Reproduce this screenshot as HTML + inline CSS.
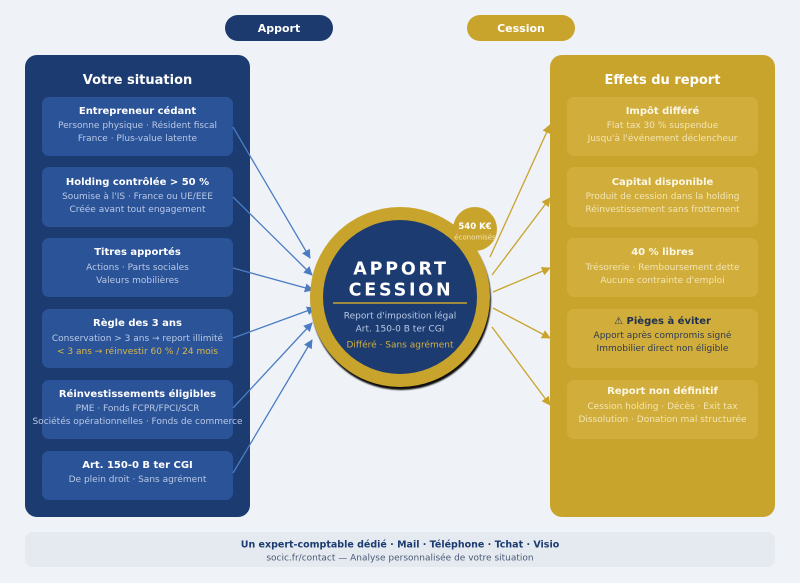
<!DOCTYPE html>
<html><head><meta charset="utf-8"><style>
html,body{margin:0;padding:0;background:#eff2f6;}
svg{display:block;font-family:"DejaVu Sans","Liberation Sans",sans-serif;}
</style></head><body>
<svg width="800" height="583" viewBox="0 0 800 583" xmlns="http://www.w3.org/2000/svg">
<defs>
<marker id="ab" viewBox="0 0 10 10" refX="9" refY="5" markerWidth="9" markerHeight="9" markerUnits="userSpaceOnUse" orient="auto"><path d="M0,0 L10,5 L0,10 z" fill="#4a7cc4"/></marker>
<marker id="ag" viewBox="0 0 10 10" refX="9" refY="5" markerWidth="9" markerHeight="9" markerUnits="userSpaceOnUse" orient="auto"><path d="M0,0 L10,5 L0,10 z" fill="#c9a42c"/></marker>
<filter id="bl"><feGaussianBlur stdDeviation="0.8"/></filter>
</defs>
<rect width="800" height="583" fill="#eff2f6"/>

<!-- pills -->
<rect x="225" y="15" width="108" height="26" rx="13" fill="#1c3a6e"/>
<text x="279" y="32" text-anchor="middle" font-size="11" font-weight="bold" fill="#ffffff">Apport</text>
<rect x="467" y="15" width="108" height="26" rx="13" fill="#c9a42c"/>
<text x="521" y="32" text-anchor="middle" font-size="11" font-weight="bold" fill="#ffffff">Cession</text>

<!-- left panel -->
<rect x="25" y="55" width="225" height="462" rx="12" fill="#1c3b70"/>
<text x="137.5" y="84" text-anchor="middle" font-size="13" font-weight="bold" fill="#ffffff">Votre situation</text>
<g fill="#2b5398">
<rect x="42" y="97" width="191" height="59" rx="7"/>
<rect x="42" y="167" width="191" height="60" rx="7"/>
<rect x="42" y="238" width="191" height="59" rx="7"/>
<rect x="42" y="309" width="191" height="59" rx="7"/>
<rect x="42" y="380" width="191" height="59" rx="7"/>
<rect x="42" y="451" width="191" height="49" rx="7"/>
</g>
<g text-anchor="middle">
<text x="137.5" y="114" font-size="10" font-weight="bold" fill="#ffffff">Entrepreneur cédant</text>
<text x="137.5" y="128" font-size="9" fill="#b9c9e6">Personne physique · Résident fiscal</text>
<text x="137.5" y="141" font-size="9" fill="#b9c9e6">France · Plus-value latente</text>

<text x="137.5" y="185" font-size="10" font-weight="bold" fill="#ffffff">Holding contrôlée &gt; 50 %</text>
<text x="137.5" y="199" font-size="9" fill="#b9c9e6">Soumise à l'IS · France ou UE/EEE</text>
<text x="137.5" y="212" font-size="9" fill="#b9c9e6">Créée avant tout engagement</text>

<text x="137.5" y="255" font-size="10" font-weight="bold" fill="#ffffff">Titres apportés</text>
<text x="137.5" y="270" font-size="9" fill="#b9c9e6">Actions · Parts sociales</text>
<text x="137.5" y="283" font-size="9" fill="#b9c9e6">Valeurs mobilières</text>

<text x="137.5" y="326" font-size="10" font-weight="bold" fill="#ffffff">Règle des 3 ans</text>
<text x="137.5" y="341" font-size="9" fill="#b9c9e6">Conservation &gt; 3 ans → report illimité</text>
<text x="137.5" y="354" font-size="9" fill="#d9b84a">&lt; 3 ans → réinvestir 60 % / 24 mois</text>

<text x="137.5" y="397" font-size="10" font-weight="bold" fill="#ffffff">Réinvestissements éligibles</text>
<text x="137.5" y="411" font-size="9" fill="#b9c9e6">PME · Fonds FCPR/FPCI/SCR</text>
<text x="137.5" y="424" font-size="9" fill="#b9c9e6">Sociétés opérationnelles · Fonds de commerce</text>

<text x="137.5" y="468" font-size="10" font-weight="bold" fill="#ffffff">Art. 150-0 B ter CGI</text>
<text x="137.5" y="482" font-size="9" fill="#b9c9e6">De plein droit · Sans agrément</text>
</g>

<!-- right panel -->
<rect x="550" y="55" width="225" height="462" rx="12" fill="#c9a42c"/>
<text x="662.5" y="84" text-anchor="middle" font-size="13" font-weight="bold" fill="#ffffff">Effets du report</text>
<g fill="#d1ae3b">
<rect x="567" y="97" width="191" height="59" rx="7"/>
<rect x="567" y="167" width="191" height="60" rx="7"/>
<rect x="567" y="238" width="191" height="59" rx="7"/>
<rect x="567" y="309" width="191" height="59" rx="7"/>
<rect x="567" y="380" width="191" height="59" rx="7"/>
</g>
<g text-anchor="middle">
<text x="662.5" y="114" font-size="10" font-weight="bold" fill="#fdf7e6">Impôt différé</text>
<text x="662.5" y="128" font-size="9" fill="#f3e4b4">Flat tax 30 % suspendue</text>
<text x="662.5" y="141" font-size="9" fill="#f3e4b4">Jusqu'à l'événement déclencheur</text>

<text x="662.5" y="185" font-size="10" font-weight="bold" fill="#fdf7e6">Capital disponible</text>
<text x="662.5" y="199" font-size="9" fill="#f3e4b4">Produit de cession dans la holding</text>
<text x="662.5" y="212" font-size="9" fill="#f3e4b4">Réinvestissement sans frottement</text>

<text x="662.5" y="255" font-size="10" font-weight="bold" fill="#fdf7e6">40 % libres</text>
<text x="662.5" y="270" font-size="9" fill="#f3e4b4">Trésorerie · Remboursement dette</text>
<text x="662.5" y="283" font-size="9" fill="#f3e4b4">Aucune contrainte d'emploi</text>

<text x="662.5" y="324" font-size="10" font-weight="bold" fill="#1f2f4f">⚠ Pièges à éviter</text>
<text x="662.5" y="338" font-size="9" fill="#2e3a52">Apport après compromis signé</text>
<text x="662.5" y="351" font-size="9" fill="#2e3a52">Immobilier direct non éligible</text>

<text x="662.5" y="394" font-size="10" font-weight="bold" fill="#fdf7e6">Report non définitif</text>
<text x="662.5" y="409" font-size="9" fill="#f3e4b4">Cession holding · Décès · Exit tax</text>
<text x="662.5" y="422" font-size="9" fill="#f3e4b4">Dissolution · Donation mal structurée</text>
</g>

<!-- left arrows -->
<g stroke="#4a7cc4" stroke-width="1.3" fill="none" marker-end="url(#ab)">
<line x1="233" y1="127" x2="310" y2="258"/>
<line x1="233" y1="197" x2="312" y2="275"/>
<line x1="233" y1="268" x2="313" y2="290"/>
<line x1="233" y1="338" x2="315" y2="308"/>
<line x1="233" y1="408" x2="312" y2="323"/>
<line x1="233" y1="473" x2="312" y2="340"/>
</g>

<!-- right arrows -->
<g stroke="#c9a42c" stroke-width="1.3" fill="none" marker-end="url(#ag)">
<line x1="490" y1="257" x2="550" y2="125"/>
<line x1="492" y1="275" x2="550" y2="198"/>
<line x1="493" y1="292" x2="550" y2="268"/>
<line x1="493" y1="308" x2="550" y2="338"/>
<line x1="492" y1="327" x2="550" y2="405"/>
</g>

<!-- central circle -->
<circle cx="401" cy="300" r="90" fill="#0b0b0b" filter="url(#bl)"/>
<circle cx="400" cy="297" r="90" fill="#c9a42c"/>
<circle cx="400" cy="297" r="77" fill="#1c3b70"/>
<circle cx="475" cy="229" r="22" fill="#c9a42c"/>
<text x="475" y="229" text-anchor="middle" font-size="8.5" font-weight="bold" fill="#ffffff">540 K€</text>
<text x="475" y="239.5" text-anchor="middle" font-size="7" fill="#f3e4b4">économisés</text>

<g text-anchor="middle">
<text x="401" y="274.5" font-size="17.5" font-weight="bold" letter-spacing="2.8" fill="#ffffff">APPORT</text>
<text x="401" y="295.5" font-size="17.5" font-weight="bold" letter-spacing="2.8" fill="#ffffff">CESSION</text>
</g>
<line x1="333" y1="303" x2="467" y2="303" stroke="#c9a42c" stroke-width="1.5"/>
<g text-anchor="middle">
<text x="400" y="318.5" font-size="9" fill="#b9c9e6">Report d'imposition légal</text>
<text x="400" y="331.5" font-size="9" fill="#b9c9e6">Art. 150-0 B ter CGI</text>
<text x="400" y="347.5" font-size="9" fill="#d4b040">Différé · Sans agrément</text>
</g>

<!-- footer -->
<rect x="25" y="532" width="750" height="35" rx="8" fill="#e5eaf1"/>
<text x="400" y="547.5" text-anchor="middle" font-size="9.5" font-weight="bold" fill="#1c3b70">Un expert-comptable dédié · Mail · Téléphone · Tchat · Visio</text>
<text x="400" y="560.5" text-anchor="middle" font-size="9" fill="#4a5a75">socic.fr/contact — Analyse personnalisée de votre situation</text>
</svg>
</body></html>
